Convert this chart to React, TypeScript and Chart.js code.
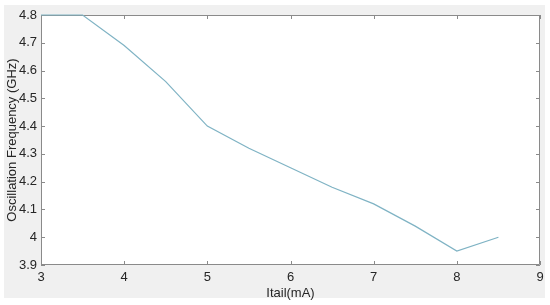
import React, { useEffect, useRef } from "react";
import { Chart, registerables } from "chart.js";

Chart.register(...registerables);

const currents = [3, 3.5, 4, 4.5, 5, 5.5, 6, 6.5, 7, 7.5, 8, 8.5];
const frequencies = [4.8, 4.8, 4.69, 4.56, 4.4, 4.32, 4.25, 4.18, 4.12, 4.04, 3.95, 4.0];
const xTicks = [3, 4, 5, 6, 7, 8, 9];
const yTicks = [3.9, 4.0, 4.1, 4.2, 4.3, 4.4, 4.5, 4.6, 4.7, 4.8];

const FONT = "'Liberation Sans', Arial, sans-serif";

const bgPlugin = {
  id: "matlabBg",
  beforeDraw(chart: any) {
    const { ctx, chartArea } = chart;
    ctx.save();
    ctx.fillStyle = "#ffffff";
    ctx.fillRect(0, 0, chart.width, chart.height);
    ctx.fillStyle = "#f0f0f0";
    ctx.fillRect(4, 5, 541, 293);
    ctx.fillStyle = "#ffffff";
    ctx.fillRect(chartArea.left, chartArea.top, chartArea.right - chartArea.left, chartArea.bottom - chartArea.top);
    ctx.restore();
  },
  beforeDatasetsDraw(chart: any) {
    const { ctx, chartArea } = chart;
    const xs = chart.scales.x;
    const ys = chart.scales.y;
    const { left, right, top, bottom } = chartArea;
    ctx.save();
    ctx.strokeStyle = "#8a8a8a";
    ctx.lineWidth = 1;
    ctx.beginPath();
    ctx.rect(left + 0.5, top + 0.5, right - left - 1, bottom - top - 1);
    ctx.stroke();
    const tl = 4;
    ctx.beginPath();
    xTicks.forEach((v) => {
      const px = Math.round(xs.getPixelForValue(v)) + 0.5;
      ctx.moveTo(px, bottom);
      ctx.lineTo(px, bottom - tl);
      ctx.moveTo(px, top);
      ctx.lineTo(px, top + tl);
    });
    yTicks.forEach((v) => {
      const py = Math.round(ys.getPixelForValue(v)) + 0.5;
      ctx.moveTo(left, py);
      ctx.lineTo(left + tl, py);
      ctx.moveTo(right, py);
      ctx.lineTo(right - tl, py);
    });
    ctx.stroke();
    ctx.restore();
  },
};

export default function App() {
  const ref = useRef<HTMLCanvasElement>(null);
  useEffect(() => {
    const chart = new Chart(ref.current as HTMLCanvasElement, {
      type: "line",
      data: {
        datasets: [
          {
            data: currents.map((x, i) => ({ x, y: frequencies[i] })),
            borderColor: "#7fb3c4",
            borderWidth: 1.2,
            pointRadius: 0,
            fill: false,
            tension: 0,
            clip: 2,
          },
        ],
      },
      options: {
        animation: false,
        responsive: false,
        maintainAspectRatio: false,
        layout: { padding: { left: 0, top: 15, right: 10, bottom: 0 } },
        plugins: { legend: { display: false }, tooltip: { enabled: false } },
        scales: {
          x: {
            type: "linear",
            min: 3,
            max: 9,
            afterFit: (s: any) => {
              s.height = 40;
            },
            afterBuildTicks: (s: any) => {
              s.ticks = xTicks.map((v) => ({ value: v }));
            },
            grid: { display: false, drawTicks: false },
            border: { display: false },
            ticks: {
              color: "#262626",
              font: { family: FONT, size: 13 },
              padding: 5,
              maxRotation: 0,
              callback: (v: any) => String(v),
            },
            title: {
              display: true,
              text: "Itail(mA)",
              color: "#262626",
              font: { family: FONT, size: 13 },
              padding: { top: 0, bottom: 4 },
            },
          },
          y: {
            type: "linear",
            min: 3.9,
            max: 4.8,
            afterFit: (s: any) => {
              s.width = 41;
            },
            afterBuildTicks: (s: any) => {
              s.ticks = yTicks.map((v) => ({ value: v }));
            },
            grid: { display: false, drawTicks: false },
            border: { display: false },
            ticks: {
              color: "#262626",
              font: { family: FONT, size: 13 },
              padding: 4,
              callback: (v: any) => String(Math.round(v * 10) / 10),
            },
            title: {
              display: true,
              text: "Oscillation Frequency (GHz)",
              color: "#262626",
              font: { family: FONT, size: 13 },
              padding: { top: 5, bottom: 0 },
            },
          },
        },
      },
      plugins: [bgPlugin],
    } as any);
    return () => chart.destroy();
  }, []);
  return (
    <div style={{ position: "absolute", left: 0, top: 0, width: 550, height: 305 }}>
      <canvas ref={ref} width={550} height={305} style={{ width: 550, height: 305 }} />
    </div>
  );
}
